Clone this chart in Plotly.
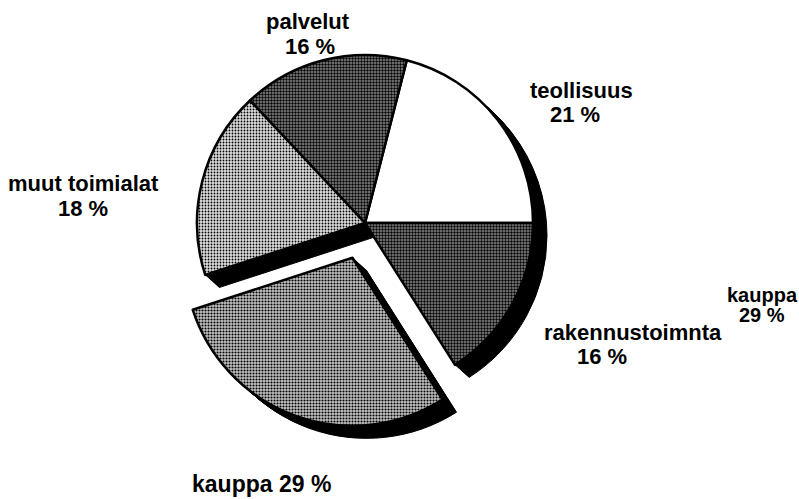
import plotly.graph_objects as go

# Data
labels = ["teollisuus", "palvelut", "muut toimialat", "kauppa", "rakennustoimnta"]
values = [21, 16, 18, 29, 16]
pulls = [0, 0, 0, 0.22, 0]

# styles
shapes_ = ["", ".", ".", ".", "."]
solid = [0.3, 0.5, 0.3, 0.4, 0.5]
bgs = ["white", "#8c8c8c", "#dedede", "#c4c4c4", "#8c8c8c"]

W, H = 799, 499
cx, cy, R = 365, 223, 168
half = R * (1 + max(pulls))

# plotly's counterclockwise pies place the first slice clockwise of `rotation`;
# shift so the first slice starts at 3 o'clock and runs counterclockwise
rot = 90 - 360 * values[0] / sum(values)

def dom(ox=0, oy=0):
    x0 = (cx + ox - half) / W
    x1 = (cx + ox + half) / W
    y0 = 1 - (cy + oy + half) / H
    y1 = 1 - (cy + oy - half) / H
    return dict(x=[x0, x1], y=[y0, y1])

fig = go.Figure()

# shadow / thickness layer
for k in range(1, 15):
    fig.add_trace(go.Pie(
        labels=labels, values=values, pull=pulls, sort=False,
        direction="counterclockwise", rotation=rot,
        marker=dict(colors=["black"] * 5, line=dict(color="black", width=1)),
        textinfo="none", hoverinfo="skip", showlegend=False,
        domain=dom(k, k * 0.9),
    ))

fig.add_trace(go.Pie(
    labels=labels, values=values, pull=pulls, sort=False,
    direction="counterclockwise", rotation=rot,
    marker=dict(colors=bgs, line=dict(color="black", width=2.5),
                pattern=dict(shape=shapes_, fgcolor="black", bgcolor=bgs,
                             size=3, solidity=solid)),
    textinfo="none", showlegend=False,
    domain=dom(),
))

def txt(s, x, y, size=22):
    fig.add_annotation(x=x / W, y=1 - y / H, xref="paper", yref="paper",
                       text=f"<b>{s}</b>", showarrow=False,
                       font=dict(family="Liberation Sans, Arial, sans-serif",
                                 size=size, color="black"),
                       xanchor="center", yanchor="middle",
                       borderpad=0, borderwidth=0)

# (name-line centre, value-line centre)
label_pos = {
    "palvelut": ((308, 21), (310, 47)),
    "teollisuus": ((581, 91), (575, 114)),
    "muut toimialat": ((83, 184), (83, 208)),
    "rakennustoimnta": ((633, 332), (602, 356)),
}
for lab, val in zip(labels, values):
    if lab in label_pos:
        (x1, y1), (x2, y2) = label_pos[lab]
        txt(lab, x1, y1)
        txt(f"{val} %", x2, y2)

ki = labels.index("kauppa")
txt(f"{labels[ki]} {values[ki]} %", 261, 484, 23)
txt(labels[ki], 762, 295, 20)
txt(f"{values[ki]} %", 762, 315, 20)

fig.update_layout(width=W, height=H, margin=dict(l=0, r=0, t=0, b=0),
                  paper_bgcolor="white", plot_bgcolor="white")
fig.write_html("out.html", config={"displayModeBar": False},
               post_script="document.body.style.margin='0px';"
                           "document.body.style.overflow='hidden';")
